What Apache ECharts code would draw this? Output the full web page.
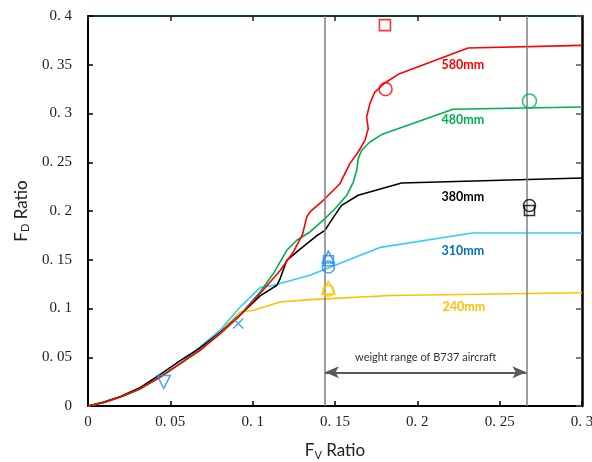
<!DOCTYPE html>
<html>
<head>
<meta charset="utf-8">
<script src="https://cdn.jsdelivr.net/npm/echarts@6/dist/echarts.min.js"></script>
<style>
  html, body { margin: 0; padding: 0; background: #fff; }
  #chart { width: 592px; height: 462px; }
</style>
</head>
<body>
<div id="chart"></div>
<script>
// curves, [Fv ratio, Fd ratio]
const line580 = [[0,0],[0.0096,0.0035],[0.0197,0.0092],[0.0318,0.0178],[0.0439,0.0297],[0.056,0.0435],[0.068,0.057],[0.0803,0.0743],[0.0924,0.093],[0.1045,0.1153],[0.1167,0.139],[0.1247,0.158],[0.1303,0.176],[0.1328,0.1937],[0.1348,0.199],[0.1429,0.211],[0.153,0.228],[0.159,0.2486],[0.1641,0.2605],[0.1682,0.2725],[0.1702,0.2845],[0.1692,0.2964],[0.1712,0.3101],[0.1742,0.322],[0.1803,0.3313],[0.1884,0.3402],[0.2308,0.3672],[0.3,0.3699]]
const line480 = [[0,0],[0.0096,0.0035],[0.0197,0.0092],[0.0318,0.0178],[0.0439,0.03],[0.056,0.0438],[0.068,0.0575],[0.0803,0.0748],[0.0924,0.0935],[0.1045,0.117],[0.1126,0.1358],[0.1207,0.1597],[0.1268,0.17],[0.1348,0.1785],[0.1439,0.1922],[0.151,0.2041],[0.1571,0.2161],[0.1611,0.2297],[0.1632,0.2417],[0.1641,0.2537],[0.1662,0.2623],[0.1712,0.2708],[0.1783,0.2784],[0.2217,0.3043],[0.3,0.3067]]
const line380 = [[0,0],[0.0096,0.004],[0.0197,0.0098],[0.0318,0.019],[0.0439,0.0325],[0.056,0.0465],[0.068,0.0595],[0.0803,0.0755],[0.0924,0.0935],[0.1045,0.113],[0.1147,0.1238],[0.1167,0.1307],[0.1207,0.1494],[0.1288,0.161],[0.139,0.1747],[0.1439,0.1802],[0.1491,0.1937],[0.154,0.2058],[0.1641,0.2161],[0.1904,0.2287],[0.3,0.2338]]
const line310 = [[0,0],[0.0096,0.0035],[0.0197,0.0092],[0.0318,0.0178],[0.0439,0.0297],[0.056,0.0435],[0.068,0.0605],[0.0803,0.078],[0.0924,0.1015],[0.1045,0.1214],[0.1126,0.1238],[0.1348,0.134],[0.1776,0.1627],[0.2335,0.1774],[0.3,0.1774]]
const line240 = [[0,0],[0.0096,0.0035],[0.0197,0.0092],[0.0318,0.0178],[0.0439,0.0297],[0.056,0.0435],[0.068,0.057],[0.0803,0.076],[0.0924,0.0964],[0.1005,0.0982],[0.1167,0.1067],[0.1348,0.1091],[0.1837,0.1134],[0.3,0.1162]]

// curve labels
const curveNames = ['580mm', '480mm', '380mm', '310mm', '240mm']
const curveLabelAt = [[0.2276,0.3494],[0.2276,0.293],[0.2276,0.214],[0.2276,0.1587],[0.2282,0.1013]]

// single test points
const redSquare = [[0.1803,0.3906]]
const redCircle = [[0.1807,0.325]]
const greenCircle = [[0.2681,0.3128]]
const blackCircle = [[0.2681,0.2056]]
const blackSquare = [[0.2681,0.2005]]
const blueTriangle = [[0.146,0.1528]]
const blueSquare = [[0.146,0.149]]
const blueCircle = [[0.146,0.1426]]
const orangeTriangle = [[0.146,0.1214]]
const orangeCircle = [[0.146,0.1185]]
const blueCross = [[0.0912,0.0846]]
const blueDown = [[0.046,0.0246]]

// weight range of B737
const b737Range = [0.1439, 0.2662]
const arrowY = 0.0346

const chart = echarts.init(document.getElementById('chart'))

function tickText(v) {
  if (v === 0) return '0'
  return String(+v.toFixed(2)).replace('.', '. ')
}

const tickFont = { fontFamily: 'Liberation Serif', fontSize: 15, color: '#222' }
const uiFont = 'Lato'

function curve(name, data, color, idx, extra) {
  return Object.assign({
    name: name,
    type: 'line',
    data: data,
    symbol: 'none',
    lineStyle: { color: color, width: 1.6 },
    itemStyle: { color: color },
    z: 3,
    markPoint: {
      symbol: 'circle',
      symbolSize: 0,
      silent: true,
      label: {
        show: true,
        formatter: name,
        color: idx === 3 ? '#0070c0' : color,
        fontFamily: uiFont,
        fontWeight: 'bold',
        fontSize: 12.5
      },
      data: [{ coord: curveLabelAt[idx] }]
    }
  }, extra || {})
}

function marker(data, symbol, color, size, rotate) {
  return {
    type: 'scatter',
    data: data,
    symbol: symbol,
    symbolSize: size,
    symbolRotate: rotate || 0,
    itemStyle: { color: 'rgba(0,0,0,0)', borderColor: color, borderWidth: 1.6 },
    z: 5
  }
}

chart.setOption({
  backgroundColor: '#fff',
  animation: false,
  grid: { left: 88, right: 10, top: 16, bottom: 56, containLabel: false, outerBoundsMode: 'none' },
  xAxis: [{
    type: 'value',
    min: 0, max: 0.3, interval: 0.05,
    name: '{a|F}{s|V}{a| Ratio}',
    nameLocation: 'middle',
    nameGap: 35,
    nameTextStyle: {
      rich: {
        a: { fontFamily: uiFont, fontSize: 17, color: '#222' },
        s: { fontFamily: uiFont, fontSize: 11, color: '#222', padding: [9, 0, 0, 0] }
      }
    },
    axisLine: { show: true, onZero: false, lineStyle: { color: '#000', width: 2 } },
    axisTick: { show: true, inside: true, length: 5, lineStyle: { color: '#000', width: 1.5 } },
    axisLabel: Object.assign({ margin: 9, formatter: tickText }, tickFont),
    splitLine: { show: false }
  }, {
    type: 'value',
    position: 'top',
    min: 0, max: 0.3, interval: 0.05,
    axisLine: { show: true, onZero: false, lineStyle: { color: '#0d3a2c', width: 2 } },
    axisTick: { show: true, inside: true, length: 5, lineStyle: { color: '#222', width: 1.5 } },
    axisLabel: { show: false },
    splitLine: { show: false }
  }],
  yAxis: [{
    type: 'value',
    min: 0, max: 0.4, interval: 0.05,
    name: '{a|F}{s|D}{a| Ratio}',
    nameLocation: 'middle',
    nameGap: 52,
    nameTextStyle: {
      rich: {
        a: { fontFamily: uiFont, fontSize: 17, color: '#222' },
        s: { fontFamily: uiFont, fontSize: 11, color: '#222', padding: [9, 0, 0, 0] }
      }
    },
    axisLine: { show: true, onZero: false, lineStyle: { color: '#000', width: 2 } },
    axisTick: { show: true, inside: true, length: 5, lineStyle: { color: '#000', width: 1.5 } },
    axisLabel: Object.assign({ margin: 16, formatter: tickText }, tickFont),
    splitLine: { show: false }
  }, {
    type: 'value',
    position: 'right',
    min: 0, max: 0.4, interval: 0.05,
    axisLine: { show: true, onZero: false, lineStyle: { color: '#000', width: 2.5 } },
    axisTick: { show: true, inside: true, length: 6, lineStyle: { color: '#555', width: 1.5 } },
    axisLabel: { show: false },
    splitLine: { show: false }
  }],
  series: [
    curve(curveNames[4], line240, '#ffc000', 4, {
      markLine: {
        silent: true,
        symbol: 'none',
        label: { show: false },
        lineStyle: { color: '#7f7f7f', width: 1.5, type: 'solid' },
        data: b737Range.map(v => [{ coord: [v, 0] }, { coord: [v, 0.4] }])
      }
    }),
    curve(curveNames[3], line310, '#33ccff', 3, {
      markLine: {
        silent: true,
        symbol: ['arrow', 'arrow'],
        symbolSize: [9, 14],
        lineStyle: { color: '#595959', width: 2, type: 'solid' },
        label: {
          show: true,
          position: 'middle',
          distance: 9,
          formatter: 'weight range of B737 aircraft',
          fontFamily: uiFont,
          fontSize: 11,
          color: '#333'
        },
        data: [[{ coord: [b737Range[0], arrowY] }, { coord: [b737Range[1], arrowY] }]]
      }
    }),
    curve(curveNames[2], line380, '#000000', 2),
    curve(curveNames[1], line480, '#00b050', 1),
    curve(curveNames[0], line580, '#ff0000', 0),
    marker(redSquare, 'rect', '#ff0000', 11),
    marker(redCircle, 'circle', '#ff0000', 13),
    marker(greenCircle, 'circle', '#00b050', 14),
    marker(blackCircle, 'circle', '#000000', 12),
    marker(blackSquare, 'rect', '#000000', 10),
    marker(blueTriangle, 'triangle', '#1e90e8', 12),
    marker(blueSquare, 'rect', '#1e90e8', 10),
    marker(blueCircle, 'circle', '#1e90e8', 12),
    marker(orangeTriangle, 'triangle', '#ffc000', 13),
    marker(orangeCircle, 'circle', '#ffc000', 11),
    marker(blueCross, 'path://M0,0L10,10M10,0L0,10', '#1e90e8', 10),
    marker(blueDown, 'triangle', '#1e90e8', 13, 180)
  ]
})
</script>
</body>
</html>
